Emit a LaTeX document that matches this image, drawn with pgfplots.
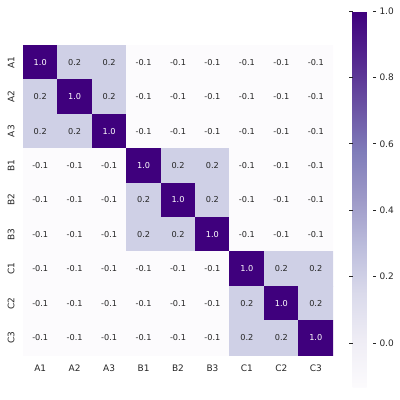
\documentclass[border=0pt]{standalone}
\usepackage{fontspec}
\setmainfont{DejaVu Sans}
\usepackage{pgfplots}
\usepackage{pgfplotstable}
\pgfplotsset{compat=1.18}
\definecolor{txtdark}{HTML}{262626}

\pgfplotstableread{
x y v
0 0 1.0
1 0 0.2
2 0 0.2
3 0 -0.135
4 0 -0.135
5 0 -0.135
6 0 -0.135
7 0 -0.135
8 0 -0.135
0 1 0.2
1 1 1.0
2 1 0.2
3 1 -0.135
4 1 -0.135
5 1 -0.135
6 1 -0.135
7 1 -0.135
8 1 -0.135
0 2 0.2
1 2 0.2
2 2 1.0
3 2 -0.135
4 2 -0.135
5 2 -0.135
6 2 -0.135
7 2 -0.135
8 2 -0.135
0 3 -0.135
1 3 -0.135
2 3 -0.135
3 3 1.0
4 3 0.2
5 3 0.2
6 3 -0.135
7 3 -0.135
8 3 -0.135
0 4 -0.135
1 4 -0.135
2 4 -0.135
3 4 0.2
4 4 1.0
5 4 0.2
6 4 -0.135
7 4 -0.135
8 4 -0.135
0 5 -0.135
1 5 -0.135
2 5 -0.135
3 5 0.2
4 5 0.2
5 5 1.0
6 5 -0.135
7 5 -0.135
8 5 -0.135
0 6 -0.135
1 6 -0.135
2 6 -0.135
3 6 -0.135
4 6 -0.135
5 6 -0.135
6 6 1.0
7 6 0.2
8 6 0.2
0 7 -0.135
1 7 -0.135
2 7 -0.135
3 7 -0.135
4 7 -0.135
5 7 -0.135
6 7 0.2
7 7 1.0
8 7 0.2
0 8 -0.135
1 8 -0.135
2 8 -0.135
3 8 -0.135
4 8 -0.135
5 8 -0.135
6 8 0.2
7 8 0.2
8 8 1.0
}\corrtable

\begin{document}
\begin{tikzpicture}
\useasboundingbox (0,0) rectangle (400bp,400bp);
\begin{axis}[
  at={(23bp,45bp)}, anchor=south west,
  width=310bp, height=310bp, scale only axis,
  xmin=-0.5, xmax=8.5, ymin=-0.5, ymax=8.5,
  y dir=reverse, enlargelimits=false,
  axis line style={draw=none},
  major tick length=0pt,
  xtick={0,...,8}, ytick={0,...,8},
  xticklabels={A1,A2,A3,B1,B2,B3,C1,C2,C3},
  yticklabels={A1,A2,A3,B1,B2,B3,C1,C2,C3},
  tick label style={font=\fontsize{9}{10}\selectfont, text=txtdark},
  yticklabel style={rotate=90, anchor=south, yshift=5bp},
  xticklabel style={yshift=-6bp},
  /pgf/number format/assume math mode=true,
  colormap={purples}{rgb255=(252,251,253) rgb255=(239,237,245) rgb255=(218,218,235) rgb255=(188,189,220) rgb255=(158,154,200) rgb255=(128,125,186) rgb255=(106,81,163) rgb255=(84,39,143) rgb255=(63,0,125)},
  point meta min=-0.135, point meta max=1.0,
  colorbar right,
  colorbar style={
    at={(parent axis.south east)}, anchor=south west,
    xshift=11bp, yshift=-33bp,
    width=20bp, height=377bp, scale only axis,
    axis line style={draw=none},
    ytick={0,0.2,0.4,0.6,0.8,1.0},
    yticklabel style={font=\fontsize{9}{10}\selectfont, text=txtdark,
      /pgf/number format/.cd, fixed, fixed zerofill, precision=1, assume math mode=true},
    tick align=outside, major tick length=3.5bp,
    tick style={draw=txtdark, line width=0.8bp},
    xtick=\empty,
  },
]
\addplot[matrix plot*, mesh/cols=9, point meta=explicit] table[x=x, y=y, meta=v] {\corrtable};
\addplot[only marks, mark=none, point meta=explicit,
  restrict expr to domain={\thisrow{v}}{-1:0.5},
  nodes near coords,
  nodes near coords align={center},
  every node near coord/.append style={font=\fontsize{8.2}{9}\selectfont, text=txtdark,
    /pgf/number format/.cd, fixed, fixed zerofill, precision=1, assume math mode=true}]
  table[x=x, y=y, meta=v] {\corrtable};
\addplot[only marks, mark=none, point meta=explicit,
  restrict expr to domain={\thisrow{v}}{0.5:2},
  nodes near coords,
  nodes near coords align={center},
  every node near coord/.append style={font=\fontsize{8.2}{9}\selectfont, text=white,
    /pgf/number format/.cd, fixed, fixed zerofill, precision=1, assume math mode=true}]
  table[x=x, y=y, meta=v] {\corrtable};
\end{axis}
\end{tikzpicture}
\end{document}
